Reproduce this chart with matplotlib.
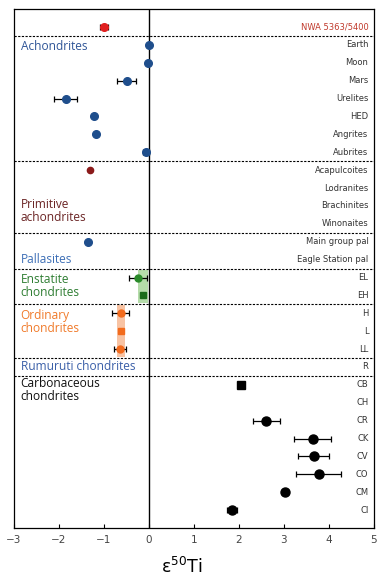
import matplotlib
matplotlib.use("Agg")
import matplotlib.pyplot as plt
import numpy as np

# 各陨石类别的 ε50Ti 数据
row_labels = [
    "NWA 5363/5400",
    "Earth", "Moon", "Mars", "Urelites", "HED", "Angrites", "Aubrites",
    "Acapulcoites", "Lodranites", "Brachinites", "Winonaites",
    "Main group pal", "Eagle Station pal",
    "EL", "EH",
    "H", "L", "LL",
    "R",
    "CB", "CH", "CR", "CK", "CV", "CO", "CM", "CI",
]
ti50 = [
    -1.00,
    0.00, -0.03, -0.49, -1.85, -1.23, -1.18, -0.07,
    -1.31, np.nan, np.nan, np.nan,
    -1.36, np.nan,
    -0.24, -0.14,
    -0.63, -0.62, -0.64,
    np.nan,
    2.04, np.nan, 2.61, 3.64, 3.66, 3.78, 3.02, 1.85,
]
ti50_err = [
    0.08,
    0.0, 0.0, 0.21, 0.25, 0.0, 0.0, 0.07,
    0.0, 0.0, 0.0, 0.0,
    0.0, 0.0,
    0.20, 0.0,
    0.18, 0.0, 0.13,
    0.0,
    0.0, 0.0, 0.30, 0.41, 0.34, 0.50, 0.07, 0.11,
]

group_names = [
    "", "Achondrites", "Primitive\nachondrites", "Pallasites",
    "Enstatite\nchondrites", "Ordinary\nchondrites",
    "Rumuruti chondrites", "Carbonaceous\nchondrites",
]
group_sizes = [1, 7, 4, 2, 2, 3, 1, 8]

# 顽火辉石和普通球粒陨石的范围带
enstatite_band = (-0.25, -0.03)
ordinary_band = (-0.72, -0.54)

# 每组的颜色和标签位置（行号）
group_text_color = ["#c0392b", "#2f5597", "#6b2525", "#3d6fb6",
                    "#2e7d32", "#f07a2a", "#3a5fa8", "#111111"]
group_marker_color = ["#e02020", "#1f4e8c", "#8b1a1a", "#1f4e8c",
                      "#2a8a2a", "#f26b1d", "#3a5fa8", "#000000"]
group_label_row = [None, 1.1, 10.3, 13.0, 14.5, 16.5, 19.0, 20.3]
group_marker_size = [5.5, 5.5, 4.5, 5.5, 5.0, 5.0, 5.0, 6.5]
square_rows = {"EH": "#1a6b1a", "L": "#f26b1d", "CB": "#000000"}

fig = plt.figure(figsize=(3.87, 5.85), dpi=100)
ax = fig.add_axes([0.036, 0.0974, 0.930, 0.887])

n_rows = len(row_labels)
rows = np.arange(n_rows)
ti50 = np.asarray(ti50)
ti50_err = np.asarray(ti50_err)

# 范围带
ax.axvspan(enstatite_band[0], enstatite_band[1],
           ymin=1 - (14 - 0.4 + 1) / 29, ymax=1 - (15 + 0.4 + 1) / 29,
           color="#b5dcaa", lw=0, zorder=1)
ax.axvspan(ordinary_band[0], ordinary_band[1],
           ymin=1 - (16 - 0.45 + 1) / 29, ymax=1 - (18 + 0.45 + 1) / 29,
           color="#f8c3a3", lw=0, zorder=1)

ax.axvline(0, color="black", lw=1.0, zorder=2)

start = 0
for g, size in enumerate(group_sizes):
    idx = np.arange(start, start + size)
    for i in idx:
        if not np.isnan(ti50[i]):
            if row_labels[i] in square_rows:
                c = square_rows[row_labels[i]]
                ax.plot(ti50[i], i, "s", color=c,
                        ms=group_marker_size[g] * 0.8, zorder=3)
            else:
                ax.errorbar(ti50[i], i,
                            xerr=ti50_err[i] if ti50_err[i] > 0 else None,
                            fmt="o", color=group_marker_color[g],
                            ms=group_marker_size[g],
                            mec=group_marker_color[g], ecolor="black",
                            elinewidth=0.9, capsize=2.5, capthick=0.9,
                            zorder=3)
        ax.text(0.985, i, row_labels[i], transform=ax.get_yaxis_transform(),
                ha="right", va="center", fontsize=6.0,
                color=group_text_color[0] if g == 0 else "#333333")
    if group_label_row[g] is not None:
        ax.text(-2.85, group_label_row[g], group_names[g], ha="left",
                va="center", fontsize=8.6, color=group_text_color[g],
                linespacing=1.0, family="Open Sans")
    start += size
    if start < n_rows:
        ax.axhline(start - 0.5, color="black", lw=0.8,
                   linestyle=(0, (2, 1.3)), zorder=2)

ax.set_xlim(-3, 5)
ax.set_ylim(n_rows, -1)
ax.set_yticks([])
ax.set_xticks(np.arange(-3, 6, 1))
ax.tick_params(axis="x", labelsize=7.5, labelcolor="#444444",
               direction="in", length=3, width=0.8, pad=5)
for s in ax.spines.values():
    s.set_linewidth(0.9)
ax.set_xlabel("ε$^{50}$Ti", fontsize=12.5)
ax.xaxis.set_label_coords(0.467, -0.056)

fig.savefig("out.png", dpi=100)
